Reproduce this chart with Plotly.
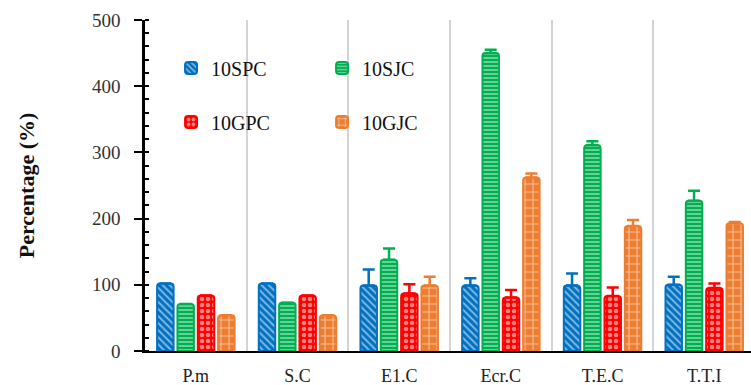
import plotly.graph_objects as go

categories = ["P.m", "S.C", "E1.C", "Ecr.C", "T.E.C", "T.T.I"]
series_names = ["10SPC", "10SJC", "10GPC", "10GJC"]
spc = [102, 102, 99, 99, 99, 100]
sjc = [71, 73, 138, 450, 311, 227]
gpc = [84, 84, 87, 81, 83, 95]
gjc = [54, 54, 99, 262, 189, 193]
spc_err = [0, 0, 24, 11, 18, 12]
sjc_err = [0, 0, 17, 5, 6, 15]
gpc_err = [0, 0, 14, 11, 13, 7]
gjc_err = [0, 0, 13, 6, 9, 2]
y_ticks = [0, 100, 200, 300, 400, 500]

colors = ["#0070C0", "#00B050", "#FF0000", "#ED7D31"]
shapes = ["\\", "-", ".", "+"]
psizes = [5, 4, 6, 8]
psol = [0.4, 0.4, 0.45, 0.25]
legends = ["legend", "legend", "legend2", "legend2"]

fig = go.Figure()
for name, vals, errs, c, sh, ps, so, lg in zip(
        series_names, [spc, sjc, gpc, gjc], [spc_err, sjc_err, gpc_err, gjc_err],
        colors, shapes, psizes, psol, legends):
    fig.add_trace(go.Bar(
        x=categories, y=vals, name=name, legend=lg,
        marker=dict(color=c, line=dict(color=c, width=2), cornerradius=3,
                    pattern=dict(shape=sh, fgcolor="white", bgcolor=c,
                                 size=ps, solidity=so)),
        error_y=dict(type="data", array=errs, arrayminus=[0]*len(errs),
                     symmetric=False, color=c, thickness=2.5, width=6),
    ))

serif = "Liberation Serif"
fig.update_layout(
    width=751, height=385,
    margin=dict(l=145, r=0, t=20, b=34),
    paper_bgcolor="white", plot_bgcolor="white",
    barmode="group", bargap=0.2, bargroupgap=0.19,
    font=dict(family=serif, color="#222222"),
    legend=dict(orientation="h", x=0.043, y=0.855, xanchor="left", yanchor="middle",
                entrywidth=106, entrywidthmode="pixels",
                font=dict(family=serif, size=20, color="#111111"),
                bgcolor="rgba(0,0,0,0)", tracegroupgap=0),
    legend2=dict(orientation="h", x=0.043, y=0.692, xanchor="left", yanchor="middle",
                 entrywidth=106, entrywidthmode="pixels",
                 font=dict(family=serif, size=20, color="#111111"),
                 bgcolor="rgba(0,0,0,0)", tracegroupgap=0),
    xaxis=dict(range=[-0.5, 5.46], tickson="boundaries", showgrid=True, automargin=False,
               gridcolor="#D3D3D3", gridwidth=2, showline=True, linecolor="black",
               linewidth=2, ticks="", tickfont=dict(family=serif, size=18, color="#222222"),
               ticklabelstandoff=7),
    yaxis=dict(range=[0, 500], tickvals=y_ticks, showgrid=False, zeroline=False,
               automargin=False,
               showline=True, linecolor="black", linewidth=2.5,
               ticks="outside", ticklen=8, tickwidth=2, tickcolor="black",
               minor=dict(dtick=20, ticks="inside", ticklen=4, tickwidth=1.5,
                          tickcolor="black", showgrid=False),
               tickfont=dict(family=serif, size=19, color="#333333"),
               ticklabelstandoff=10,
               title=dict(text="<b>Percentage (%)</b>", standoff=52,
                          font=dict(family=serif, size=22, color="#111111"))),
)

fig.write_html("out.html", config={"displayModeBar": False},
               post_script="document.body.style.margin='0px';")
